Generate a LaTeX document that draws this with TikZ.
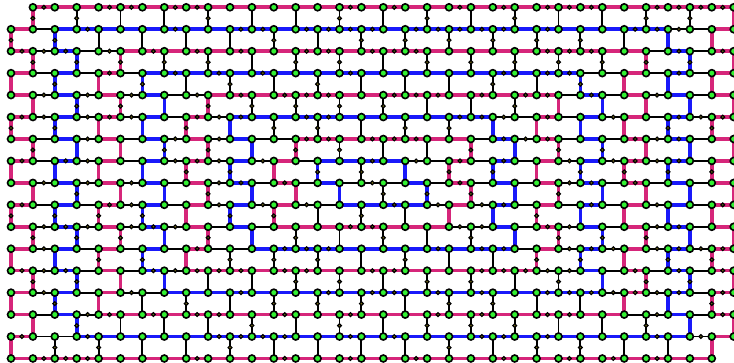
\documentclass[tikz,border=0pt]{standalone}
\definecolor{loopmag}{RGB}{214,38,122}
\definecolor{loopblue}{RGB}{25,25,250}
\definecolor{sitegreen}{RGB}{50,240,50}
\definecolor{dotfill}{RGB}{120,110,20}
\begin{document}
\begin{tikzpicture}[
    kedge/.style={line width=1.9pt, black},
    cedge/.style={line width=3.6pt, line cap=rect},
    site/.style={circle, fill=sitegreen, draw=black, line width=1.6pt, inner sep=0pt, minimum size=7pt},
    qdot/.style={circle, fill=dotfill, draw=black, line width=1.2pt, inner sep=0pt, minimum size=3.8pt}]
  \useasboundingbox (0,0) rectangle (734pt,363pt);
  \begin{scope}[shift={(11pt,355.7pt)}, x=21.9pt, y=-21.95pt]
    \foreach \r in {0,...,16}
      \foreach \c in {0,...,33}
        \coordinate (v-\r-\c) at (\c,\r);
    % rows
    \foreach \r in {0,...,16}{
      \pgfmathtruncatemacro\cs{\r==0 ? 1 : 0}
      \pgfmathtruncatemacro\ce{\r==16 ? 31 : 32}
      \foreach \c in {\cs,...,\ce}{
        \pgfmathtruncatemacro\cn{\c+1}
        \draw[kedge] (v-\r-\c) -- (v-\r-\cn);
      }
    }
    % rungs
    \foreach \r in {0,...,15}{
      \pgfmathtruncatemacro\rn{\r+1}
      \pgfmathtruncatemacro\cs{mod(\r+1,2)}
      \pgfmathtruncatemacro\cz{\cs+2}
      \foreach \c in {\cs,\cz,...,33}
        \draw[kedge] (v-\r-\c) -- (v-\rn-\c);
    }
    % nested loops
    \foreach \k in {0,...,7}{
      \ifodd\k \def\lcolor{loopblue}\else \def\lcolor{loopmag}\fi
      \pgfmathtruncatemacro\topa{2*\k+1-mod(\k,2)}
      \pgfmathtruncatemacro\topb{33-2*\k-mod(\k,2)}
      \pgfmathtruncatemacro\botrow{16-\k}
      \pgfmathtruncatemacro\bota{2*\k+mod(\k,2)}
      \pgfmathtruncatemacro\botb{32-2*\k+mod(\k,2)}
      \pgfmathtruncatemacro\lefta{2*\k}
      \pgfmathtruncatemacro\leftb{2*\k+1}
      \pgfmathtruncatemacro\righta{32-2*\k}
      \pgfmathtruncatemacro\rightb{33-2*\k}
      \pgfmathtruncatemacro\lastrow{15-\k}
      \draw[cedge, draw=\lcolor] (v-\k-\topa) -- (v-\k-\topb);
      \draw[cedge, draw=\lcolor] (v-\botrow-\bota) -- (v-\botrow-\botb);
      \foreach \r in {\k,...,\lastrow}{
        \pgfmathtruncatemacro\rn{\r+1}
        \pgfmathtruncatemacro\cleft{\leftb-mod(\r,2)}
        \pgfmathtruncatemacro\cright{\rightb-mod(\r,2)}
        \draw[cedge, draw=\lcolor] (v-\r-\cleft) -- (v-\rn-\cleft);
        \draw[cedge, draw=\lcolor] (v-\r-\cright) -- (v-\rn-\cright);
        \ifnum\r>\k
          \draw[cedge, draw=\lcolor] (v-\r-\lefta) -- (v-\r-\leftb);
          \draw[cedge, draw=\lcolor] (v-\r-\righta) -- (v-\r-\rightb);
        \fi
      }
    }
    % dots on rows
    \foreach \r/\cl in {
        0/{1,4,5,7,8,15,17,20,22,24,25,26,29,30,31,32},
        1/{3,7,10,11,13,14,15,16,18,19,20,21,22,24,28,29,30},
        2/{0,1,2,4,6,8,10,13,14,16,17,18,24,25,26,30,32},
        3/{4,7,9,11,15,22,24,25,30},
        4/{1,3,5,8,10,12,13,14,17,18,19,21,23,24,26,29},
        5/{0,1,3,4,5,8,9,10,13,14,20,21,22,24,27,30,31,32},
        6/{3,7,9,13,14,16,17,18,22,23,24,28,29,30},
        7/{0,2,3,7,8,9,11,16,18,20,22,25,27,28,29,30},
        8/{1,3,5,9,10,12,16,20,25,26,28},
        9/{0,4,5,9,11,13,17,19,21,22,26,29,32},
        10/{1,2,3,5,6,7,15,16,20,21,24,25,29,30},
        11/{1,8,12,13,14,19,21,22,25,26,27,29,30,31,32},
        12/{0,1,2,6,7,8,9,10,12,13,16,17,21,22,23,24,25,28,30,32},
        13/{1,5,10,14,16,17,19,21,24,25,26,27,28,29,30,32},
        14/{3,4,6,8,9,12,15,19,21,24,25,29,32},
        15/{0,3,9,10,11,12,15,17,21,22,24,29,31},
        16/{1,2,3,8,12,15,18,22,25,27,29}}
      \foreach \c in \cl {
        \pgfmathtruncatemacro\cn{\c+1}
        \path (v-\r-\c) -- node[qdot] (h-\r-\c) {} (v-\r-\cn);
      }
    % dots on rungs
    \foreach \r/\cl in {
        0/{1,3,9,15,19,23,29,31},
        1/{0,2,12,16,18,20,22,24,26},
        2/{1,3,5,7,9,13,15,19,21,23,25,27,29,31},
        3/{2,6,10,14,22,26},
        4/{3,5,9,11,13,15,17,23},
        5/{0,2,8,12,14,18,20,30,32},
        6/{1,7,9,13,15,21,25,27},
        7/{8,10,14,16,20,22,26,28,30,32},
        8/{3,9,17,19,21,25},
        9/{0,2,4,6,10,12,16,24},
        10/{1,3,5,9,13,17,21,25,27,29},
        11/{4,6,10,12,14,18,24,26,30,32},
        12/{1,3,13,15,19,21,25,29,31},
        13/{2,8,12,14,16,20,22,32},
        14/{3,11,15,19,21,23,29},
        15/{2,4,10,20,24,26}}
      \foreach \c in \cl {
        \pgfmathtruncatemacro\rn{\r+1}
        \path (v-\r-\c) -- node[qdot] (u-\r-\c) {} (v-\rn-\c);
      }
    % sites
    \foreach \r in {0,...,16}
      \foreach \c in {0,...,33}{
        \pgfmathtruncatemacro\gone{(\r==0)*(\c==0)+(\r==16)*(\c==33)}
        \ifnum\gone=0 \node[site] (n-\r-\c) at (v-\r-\c) {}; \fi
      }
  \end{scope}
\end{tikzpicture}
\end{document}
